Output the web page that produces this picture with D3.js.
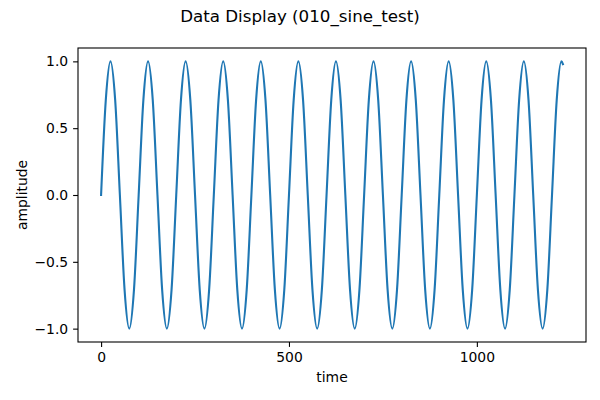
<!DOCTYPE html>
<meta charset="utf-8">
<style>
	body {
		margin: 0;
		padding: 0;
		background: #ffffff;
	}
	.axis text {
		fill: #000000;
		font: 13.9px 'DejaVu Sans', sans-serif;
	}
	.axis path,
	.axis line {
		fill: none;
		stroke: #000000;
		stroke-width: 1.1px;
	}
	.line {
		fill: none;
		stroke: #1f77b4;
		stroke-width: 2.1px;
		stroke-linejoin: round;
		stroke-linecap: square;
	}
	.label {
		font: 13.9px 'DejaVu Sans', sans-serif;
		fill: #000000;
	}
	.title {
		font: 16.7px 'DejaVu Sans', sans-serif;
		fill: #000000;
	}
</style>
<body>
<svg class="chart"></svg>
</body>
<script src="https://d3js.org/d3.v7.min.js"></script>
<script>

// samples every eighth of a cycle
var time = [0, 12.5, 25, 37.5, 50, 62.5, 75, 87.5, 100, 112.5, 125, 137.5, 150, 162.5, 175, 187.5,
	200, 212.5, 225, 237.5, 250, 262.5, 275, 287.5, 300, 312.5, 325, 337.5, 350, 362.5, 375, 387.5,
	400, 412.5, 425, 437.5, 450, 462.5, 475, 487.5, 500, 512.5, 525, 537.5, 550, 562.5, 575, 587.5,
	600, 612.5, 625, 637.5, 650, 662.5, 675, 687.5, 700, 712.5, 725, 737.5, 750, 762.5, 775, 787.5,
	800, 812.5, 825, 837.5, 850, 862.5, 875, 887.5, 900, 912.5, 925, 937.5, 950, 962.5, 975, 987.5,
	1000, 1012.5, 1025, 1037.5, 1050, 1062.5, 1075, 1087.5, 1100, 1112.5, 1125, 1137.5, 1150, 1162.5, 1175, 1187.5,
	1200, 1212.5, 1225, 1229];

var amplitude = [0, 0.71, 1, 0.71, 0, -0.71, -1, -0.71, 0, 0.71, 1, 0.71, 0, -0.71, -1, -0.71,
	0, 0.71, 1, 0.71, 0, -0.71, -1, -0.71, 0, 0.71, 1, 0.71, 0, -0.71, -1, -0.71,
	0, 0.71, 1, 0.71, 0, -0.71, -1, -0.71, 0, 0.71, 1, 0.71, 0, -0.71, -1, -0.71,
	0, 0.71, 1, 0.71, 0, -0.71, -1, -0.71, 0, 0.71, 1, 0.71, 0, -0.71, -1, -0.71,
	0, 0.71, 1, 0.71, 0, -0.71, -1, -0.71, 0, 0.71, 1, 0.71, 0, -0.71, -1, -0.71,
	0, 0.71, 1, 0.71, 0, -0.71, -1, -0.71, 0, 0.71, 1, 0.71, 0, -0.71, -1, -0.71,
	0, 0.71, 1, 0.98];

var xTicks = [0, 500, 1000];
var yTicks = [-1.0, -0.5, 0.0, 0.5, 1.0];

var titleText = "Data Display (010_sine_test)";
var xLabel = "time";
var yLabel = "amplitude";

var width = 600, height = 400;
var plot = {left: 78, right: 586, top: 48, bottom: 342};

var data = time.map(function (t, i) { return {t: t, v: amplitude[i]}; });

var tMin = d3.min(time), tMax = d3.max(time);
var padX = (tMax - tMin) * 0.05;

var x = d3.scaleLinear()
	.domain([tMin - padX, tMax + padX])
	.range([plot.left, plot.right]);

var y = d3.scaleLinear()
	.domain([-1.1, 1.1])
	.range([plot.bottom, plot.top]);

var svg = d3.select(".chart")
	.attr("width", width)
	.attr("height", height);

svg.append("rect")
	.attr("width", width)
	.attr("height", height)
	.attr("fill", "#ffffff");

var minus = function (s) { return s.replace("-", "\u2212"); };

var xAxis = d3.axisBottom(x)
	.tickValues(xTicks)
	.tickSize(4.9)
	.tickPadding(4.9)
	.tickSizeOuter(0)
	.tickFormat(d3.format("d"));

var yAxis = d3.axisLeft(y)
	.tickValues(yTicks)
	.tickSize(4.9)
	.tickPadding(4.9)
	.tickSizeOuter(0)
	.tickFormat(function (d) { return minus(d3.format(".1f")(d)); });

var line = d3.line()
	.x(function (d) { return x(d.t); })
	.y(function (d) { return y(d.v); })
	.curve(d3.curveMonotoneX);

svg.append("defs").append("clipPath")
	.attr("id", "clip")
	.append("rect")
	.attr("x", plot.left)
	.attr("y", plot.top)
	.attr("width", plot.right - plot.left)
	.attr("height", plot.bottom - plot.top);

svg.append("path")
	.datum(data)
	.attr("class", "line")
	.attr("clip-path", "url(#clip)")
	.attr("d", line);

svg.append("g")
	.attr("class", "axis")
	.attr("transform", "translate(0," + plot.bottom + ")")
	.call(xAxis)
	.call(function (g) { g.select(".domain").remove(); });

svg.append("g")
	.attr("class", "axis")
	.attr("transform", "translate(" + plot.left + ",0)")
	.call(yAxis)
	.call(function (g) { g.select(".domain").remove(); });

// frame
svg.append("rect")
	.attr("x", plot.left)
	.attr("y", plot.top)
	.attr("width", plot.right - plot.left)
	.attr("height", plot.bottom - plot.top)
	.attr("fill", "none")
	.attr("stroke", "#000000")
	.attr("stroke-width", 1.1);

svg.append("text")
	.attr("class", "title")
	.attr("x", width / 2)
	.attr("y", 22)
	.attr("text-anchor", "middle")
	.text(titleText);

svg.append("text")
	.attr("class", "label")
	.attr("x", (plot.left + plot.right) / 2)
	.attr("y", 382)
	.attr("text-anchor", "middle")
	.text(xLabel);

svg.append("text")
	.attr("class", "label")
	.attr("transform", "translate(27," + ((plot.top + plot.bottom) / 2) + ") rotate(-90)")
	.attr("text-anchor", "middle")
	.text(yLabel);

</script>
